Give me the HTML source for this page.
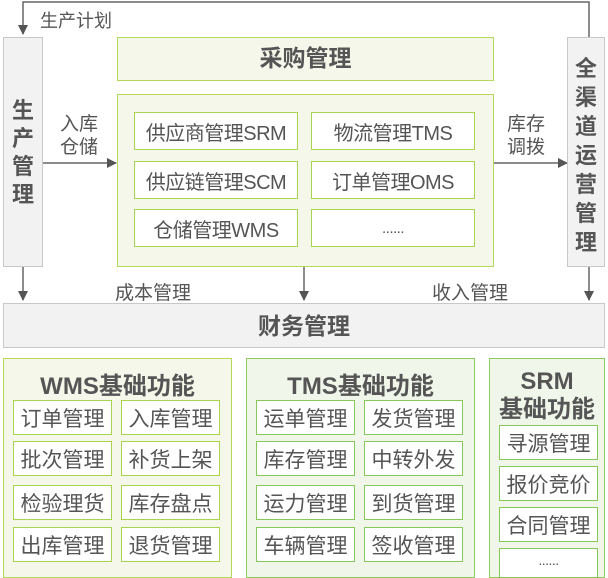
<!DOCTYPE html>
<html><head><meta charset="utf-8"><style>
body{margin:0;width:608px;height:570px;overflow:hidden;background:#fff;font-family:"Liberation Sans","Noto Sans CJK SC",sans-serif;color:#555;position:relative}
div{position:absolute;box-sizing:border-box}
.g{background:#f2f2f2;border:1px solid #c8c8c8}
.p{background:#f4f7e9;border:1.5px solid #b4d85a}
.b{background:#fff;border:1.5px solid #a8d44e;display:flex;align-items:center;justify-content:center;font-size:20px;color:#555;white-space:nowrap;letter-spacing:-0.5px}
.s{font-size:21px;letter-spacing:0}
.t{border:1.5px solid #8fcc60;background:#f0f6ea}
.bt{border-color:#86c95a}
.v{font-weight:bold;font-size:22px;text-align:center;line-height:29px;color:#555}
.l{font-size:18px;color:#555;white-space:nowrap}
.h{font-weight:bold;font-size:23px;text-align:center;color:#555;white-space:nowrap}
</style></head><body>
<svg width="608" height="570" style="position:absolute;left:0;top:0">
<defs><marker id="a" markerWidth="10" markerHeight="10" refX="9" refY="5" orient="auto" markerUnits="userSpaceOnUse"><path d="M0,0L10,5L0,10z" fill="#555"/></marker></defs>
<g stroke="#666" stroke-width="1.5" fill="none">
<polyline points="589,37 589,2 23,2 23,34" marker-end="url(#a)"/>
<line x1="43" y1="163" x2="116" y2="163" marker-end="url(#a)"/>
<line x1="494" y1="163" x2="567" y2="163" marker-end="url(#a)"/>
<line x1="23" y1="267" x2="23" y2="300" marker-end="url(#a)"/>
<line x1="304" y1="267" x2="304" y2="300" marker-end="url(#a)"/>
<line x1="589" y1="267" x2="589" y2="300" marker-end="url(#a)"/>
</g></svg>
<div class="l" style="left:40px;top:7px">生产计划</div>
<div class="g v" style="left:3px;top:37px;width:40px;height:230px;padding-top:59px;line-height:28px">生<br>产<br>管<br>理</div>
<div class="g v" style="left:567px;top:37px;width:38px;height:230px;padding-top:16px">全<br>渠<br>道<br>运<br>营<br>管<br>理</div>
<div class="p h" style="left:117px;top:37px;width:377px;height:44px;line-height:41px">采购管理</div>
<div class="p" style="left:117px;top:94px;width:377px;height:173px"></div>
<div class="b" style="left:134px;top:112px;width:164px;height:38px">供应商管理SRM</div>
<div class="b" style="left:134px;top:161px;width:164px;height:38px">供应链管理SCM</div>
<div class="b" style="left:134px;top:209px;width:164px;height:38px">仓储管理WMS</div>
<div class="b" style="left:311px;top:112px;width:164px;height:38px">物流管理TMS</div>
<div class="b" style="left:311px;top:161px;width:164px;height:38px">订单管理OMS</div>
<div class="b" style="left:311px;top:209px;width:164px;height:38px;font-size:15px">......</div>
<div class="l" style="left:60px;top:113px;line-height:23px;font-size:19px">入库<br>仓储</div>
<div class="l" style="left:507px;top:113px;line-height:23px;font-size:19px">库存<br>调拨</div>
<div class="l" style="left:115px;top:278px;font-size:19px">成本管理</div>
<div class="l" style="left:432px;top:278px;font-size:19px">收入管理</div>
<div class="g h" style="left:3px;top:303px;width:602px;height:45px;line-height:44px">财务管理</div>

<div class="p" style="left:3px;top:358px;width:229px;height:220px"></div>
<div class="h" style="left:3px;top:366px;width:229px;font-size:24px">WMS基础功能</div>
<div class="b s" style="left:13px;top:400px;width:99px;height:35px">订单管理</div>
<div class="b s" style="left:121px;top:400px;width:99px;height:35px">入库管理</div>
<div class="b s" style="left:13px;top:441px;width:99px;height:35px">批次管理</div>
<div class="b s" style="left:121px;top:441px;width:99px;height:35px">补货上架</div>
<div class="b s" style="left:13px;top:485px;width:99px;height:35px">检验理货</div>
<div class="b s" style="left:121px;top:485px;width:99px;height:35px">库存盘点</div>
<div class="b s" style="left:13px;top:527px;width:99px;height:35px">出库管理</div>
<div class="b s" style="left:121px;top:527px;width:99px;height:35px">退货管理</div>

<div class="t" style="left:246px;top:358px;width:229px;height:220px"></div>
<div class="h" style="left:246px;top:366px;width:229px;font-size:24px">TMS基础功能</div>
<div class="b bt s" style="left:256px;top:400px;width:99px;height:35px">运单管理</div>
<div class="b bt s" style="left:364px;top:400px;width:99px;height:35px">发货管理</div>
<div class="b bt s" style="left:256px;top:441px;width:99px;height:35px">库存管理</div>
<div class="b bt s" style="left:364px;top:441px;width:99px;height:35px">中转外发</div>
<div class="b bt s" style="left:256px;top:485px;width:99px;height:35px">运力管理</div>
<div class="b bt s" style="left:364px;top:485px;width:99px;height:35px">到货管理</div>
<div class="b bt s" style="left:256px;top:527px;width:99px;height:35px">车辆管理</div>
<div class="b bt s" style="left:364px;top:527px;width:99px;height:35px">签收管理</div>

<div class="t" style="left:489px;top:358px;width:116px;height:220px"></div>
<div class="h" style="left:489px;top:368px;width:116px;line-height:28px;font-size:24px">SRM<br>基础功能</div>
<div class="b bt s" style="left:499px;top:425px;width:99px;height:35px">寻源管理</div>
<div class="b bt s" style="left:499px;top:466px;width:99px;height:35px">报价竞价</div>
<div class="b bt s" style="left:499px;top:507px;width:99px;height:35px">合同管理</div>
<div class="b bt" style="left:499px;top:548px;width:99px;height:30px;font-size:14px;align-items:flex-start;padding-top:3px">......</div>
</body></html>
